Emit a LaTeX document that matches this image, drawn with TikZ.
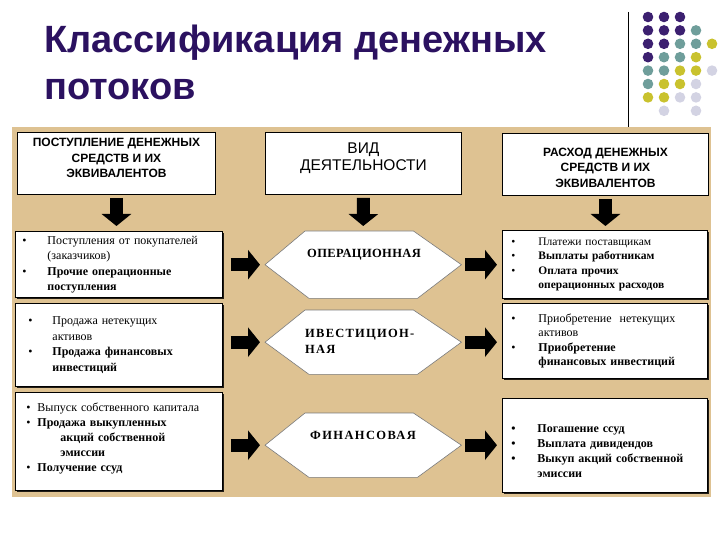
\documentclass[tikz,border=0pt]{standalone}
\usepackage{fontspec}
\setmainfont{Liberation Serif}
\setsansfont{Liberation Sans}
\usetikzlibrary{arrows.meta,positioning,calc,shadows}
\definecolor{ink}{HTML}{2B1160}
\definecolor{tan}{HTML}{DEC292}
\definecolor{rim}{HTML}{7A7A7A}
\definecolor{dpu}{HTML}{3C2070}
\definecolor{dte}{HTML}{6F9E9B}
\definecolor{dye}{HTML}{C9C22E}
\definecolor{dli}{HTML}{D3D3E3}
\newcommand{\bul}[2]{\hspace*{#1}\makebox[#2][l]{\textbullet}}
\tikzset{
  title/.style={anchor=north west, inner sep=0pt, align=left, text=ink, font=\sffamily\bfseries\fontsize{38}{47}\selectfont},
  headbox/.style={draw=black, line width=0.9pt, fill=white, anchor=north west, inner sep=0pt, align=center, font=\sffamily\bfseries\fontsize{12}{15.5}\selectfont},
  listbox/.style={draw=black, line width=0.9pt, fill=white, anchor=north west, inner sep=0pt, align=left, font=\fontsize{12}{15.5}\selectfont,
    drop shadow={shadow xshift=1.5pt, shadow yshift=-1.5pt, fill=black, opacity=0.85}},
  kind/.style={inner sep=0pt, anchor=north west, minimum width=196pt},
  hexa/.style={draw=rim, line width=0.6pt, fill=white},
  kindtext/.style={anchor=base west, inner sep=0pt, align=left, font=\bfseries\fontsize{12.5}{16}\selectfont},
  blockarrow/.style={line width=13pt, -{Triangle[width=29pt,length=12pt]}},
}
\begin{document}
\begin{tikzpicture}[x=1pt,y=-1pt]
  \useasboundingbox (0,0) rectangle (720,540);
  % title + corner ornament
  \node[title] (ttl) at (44,25) {Классификация денежных\\потоков};
  \draw[line width=0.8pt] (628,12) -- (628,128);
  \foreach \cl [count=\r from 0] in {{dpu,dpu,dpu},{dpu,dpu,dpu,dte},{dpu,dpu,dte,dte,dye},{dpu,dte,dte,dye},{dte,dte,dye,dye,dli},{dte,dye,dye,dli},{dye,dye,dli,dli},{none,dli,none,dli}}
    \foreach \c [count=\k from 0] in \cl
      \fill[fill=\c] (648+16*\k,17+13.4*\r) circle (5.3);
  % panel
  \fill[tan] (12,127) rectangle (711,497);
  % headers
  \node[headbox, text depth=11pt, minimum width=198pt, minimum height=62pt] (inhead) at (17,132) {ПОСТУПЛЕНИЕ ДЕНЕЖНЫХ\\СРЕДСТВ И ИХ\\ЭКВИВАЛЕНТОВ};
  \node[headbox, text depth=13pt, font=\sffamily\fontsize{15.5}{17}\selectfont, minimum width=196pt, minimum height=62pt] (kindhead) at (265,132) {ВИД\\ДЕЯТЕЛЬНОСТИ};
  \node[headbox, text height=46pt, minimum width=206pt, minimum height=62pt] (outhead) at (502,133) {РАСХОД ДЕНЕЖНЫХ\\СРЕДСТВ И ИХ\\ЭКВИВАЛЕНТОВ};
  % inflows
  \node[listbox, text width=207pt, minimum height=66pt] (in1) at (15,231) {%
    \bul{7pt}{25pt}Поступления от покупателей\\
    \hspace*{32pt}(заказчиков)\\
    \bul{7pt}{25pt}\textbf{Прочие операционные}\\
    \hspace*{32pt}\textbf{поступления}};
  \node[listbox, text width=207pt, minimum height=83pt] (in2) at (15,303) {%
    \bul{13pt}{24pt}Продажа нетекущих\\
    \hspace*{37pt}активов\\
    \bul{13pt}{24pt}\textbf{Продажа финансовых}\\
    \hspace*{37pt}\textbf{инвестиций}};
  \node[listbox, text width=207pt, text depth=69pt, minimum height=98pt, font=\fontsize{12}{15}\selectfont] (in3) at (15,392) {%
    \bul{11pt}{11pt}Выпуск собственного капитала\\
    \bul{11pt}{11pt}\textbf{Продажа выкупленных}\\
    \hspace*{45pt}\textbf{акций собственной}\\
    \hspace*{45pt}\textbf{эмиссии}\\
    \bul{11pt}{11pt}\textbf{Получение ссуд}};
  % kinds of activity
  \node[kind, minimum height=67pt] (oper) at (265,231) {};
  \node[kind, minimum height=64pt] (inv) at (265,310) {};
  \node[kind, minimum height=64pt] (fin) at (265,413) {};
  \foreach \k in {oper,inv,fin}
    \draw[hexa] (\k.west) -- ([xshift=40pt]\k.north west) -- ([xshift=-48pt]\k.north east) -- (\k.east)
      -- ([xshift=-44pt]\k.south east) -- ([xshift=44pt]\k.south west) -- cycle;
  \node[kindtext, font=\bfseries\fontsize{12.5}{16}\selectfont\addfontfeature{LetterSpace=3}] (operlbl) at ([xshift=42pt,yshift=-26.5pt]oper.north west) {ОПЕРАЦИОННАЯ};
  \node[kindtext, font=\bfseries\fontsize{12.5}{16}\selectfont\addfontfeature{LetterSpace=10}] (invlbl) at ([xshift=40pt,yshift=-43.5pt]inv.north west) {ИВЕСТИЦИОН-\\НАЯ};
  \node[kindtext, font=\bfseries\fontsize{12.5}{16}\selectfont\addfontfeature{LetterSpace=11}] (finlbl) at ([xshift=45pt,yshift=-26.5pt]fin.north west) {ФИНАНСОВАЯ};
  % outflows
  \node[listbox, text width=205pt, minimum height=68pt, font=\fontsize{11.5}{14.3}\selectfont] (out1) at (502,230) {%
    \bul{9pt}{27pt}Платежи поставщикам\\
    \bul{9pt}{27pt}\textbf{Выплаты работникам}\\
    \bul{9pt}{27pt}\textbf{Оплата прочих}\\
    \hspace*{36pt}\textbf{операционных расходов}};
  \node[listbox, text width=205pt, minimum height=75pt, font=\fontsize{12}{14.5}\selectfont] (out2) at (502,303) {%
    \bul{9pt}{27pt}Приобретение\ \ нетекущих\\
    \hspace*{36pt}активов\\
    \bul{9pt}{27pt}\textbf{Приобретение}\\
    \hspace*{36pt}\textbf{финансовых инвестиций}};
  \node[listbox, text width=205pt, text height=20pt, minimum height=94pt, font=\bfseries\fontsize{12}{15}\selectfont] (out3) at (502,398) {%
    \bul{9pt}{26pt}Погашение ссуд\\
    \bul{9pt}{26pt}Выплата дивидендов\\
    \bul{9pt}{26pt}Выкуп акций собственной\\
    \hspace*{35pt}эмиссии};
  % arrows
  \draw[blockarrow, shorten <=3pt, shorten >=5pt] (inhead.south) -- (inhead.south |- in1.north);
  \draw[blockarrow, shorten <=3pt, shorten >=5pt] (kindhead.south) -- (oper.north);
  \draw[blockarrow, shorten <=3pt, shorten >=4pt] (outhead.south) -- (outhead.south |- out1.north);
  \draw[blockarrow, shorten <=8pt, shorten >=5pt] (in1.east |- oper.west) -- (oper.west);
  \draw[blockarrow, shorten <=8pt, shorten >=5pt] (in2.east |- inv.west) -- (inv.west);
  \draw[blockarrow, shorten <=8pt, shorten >=5pt] (in3.east |- fin.west) -- (fin.west);
  \draw[blockarrow, shorten <=4pt, shorten >=5pt] (oper.east) -- (oper.east -| out1.west);
  \draw[blockarrow, shorten <=4pt, shorten >=5pt] (inv.east) -- (inv.east -| out2.west);
  \draw[blockarrow, shorten <=4pt, shorten >=5pt] (fin.east) -- (fin.east -| out3.west);
\end{tikzpicture}
\end{document}
